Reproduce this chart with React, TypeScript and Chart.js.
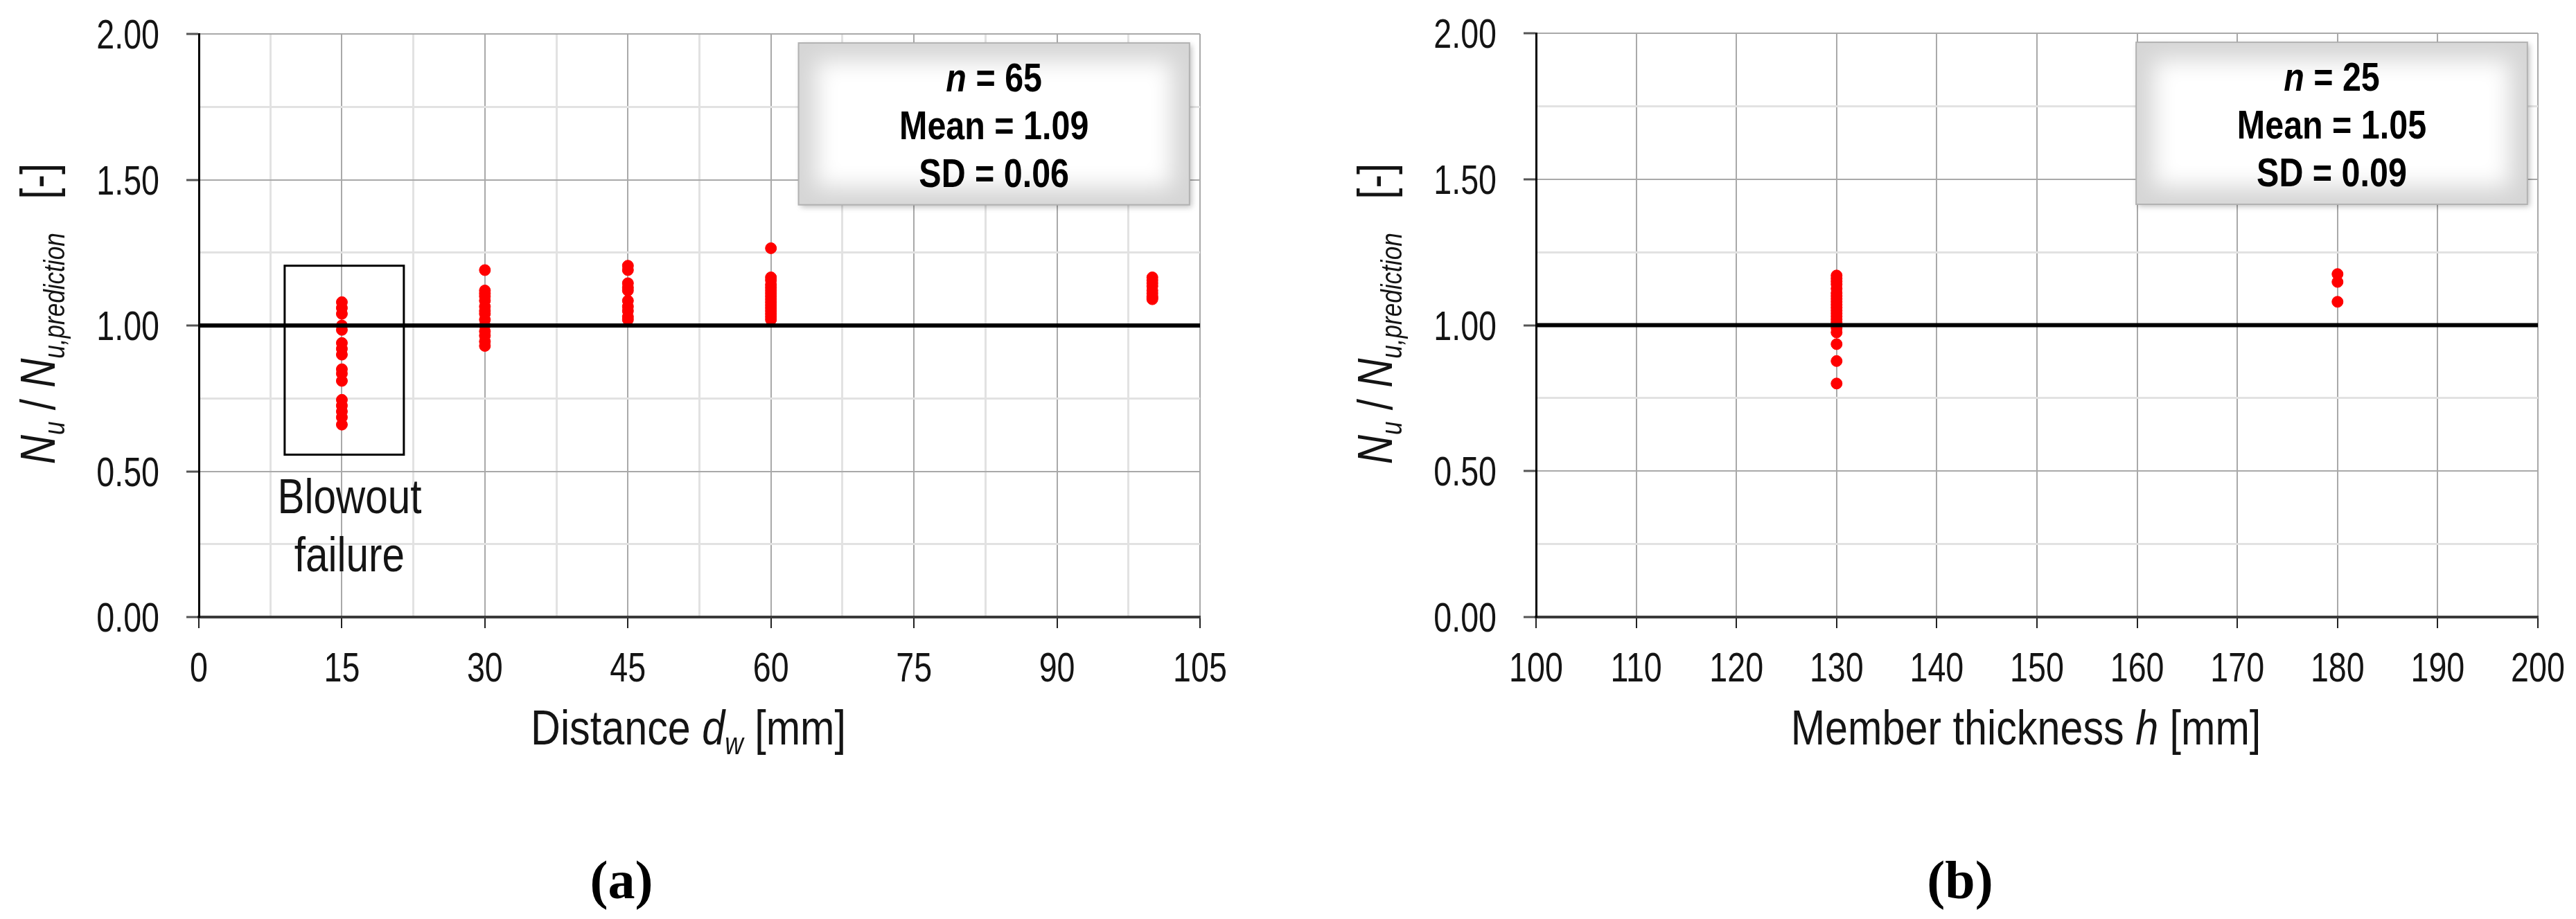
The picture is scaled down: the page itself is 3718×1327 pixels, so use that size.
import React, { useEffect, useRef } from 'react';
import { Chart, registerables } from 'chart.js';

Chart.register(...registerables);

const SANS = '"Liberation Sans", Arial, sans-serif';
const SERIF = '"Liberation Serif", "Times New Roman", serif';
const TEXT = '#141414';
const RED = '#ff0000';

// ---------- Panel (a): distance d_w ----------
const distanceCategories = [15, 30, 45, 60, 100];
const ratioAt15 = [1.08, 1.06, 1.04, 1.0, 0.985, 0.94, 0.92, 0.9, 0.85, 0.835, 0.81, 0.745, 0.725, 0.705, 0.685, 0.66];
const ratioAt30 = [1.19, 1.12, 1.11, 1.1, 1.085, 1.065, 1.05, 1.04, 1.02, 1.0, 0.98, 0.965, 0.945, 0.93];
const ratioAt45 = [1.205, 1.19, 1.145, 1.13, 1.12, 1.085, 1.065, 1.05, 1.03, 1.02];
const ratioAt60 = [1.265, 1.165, 1.155, 1.14, 1.13, 1.12, 1.11, 1.1, 1.09, 1.08, 1.07, 1.06, 1.05, 1.04, 1.03, 1.02];
const ratioAt100 = [1.165, 1.155, 1.145, 1.135, 1.12, 1.11, 1.1, 1.095, 1.09];
const distanceSeries = [ratioAt15, ratioAt30, ratioAt45, ratioAt60, ratioAt100];
const distanceRange = [0, 105];
const distanceStep = 7.5;
const distanceLabelStep = 15;
const statsA = ['65', '1.09', '0.06'];
const blowoutBox = [9, 21.5, 0.557, 1.205];
const blowoutLabel = ['Blowout', 'failure'];
const blowoutLabelPos = [15.8, 0.356, 0.157];

// ---------- Panel (b): member thickness h ----------
const thicknessCategories = [130, 180];
const ratioAt130 = [1.17, 1.16, 1.15, 1.14, 1.125, 1.11, 1.1, 1.09, 1.08, 1.07, 1.06, 1.05, 1.04, 1.03, 1.02, 1.01, 1.0, 0.99, 0.975, 0.935, 0.877, 0.8];
const ratioAt180 = [1.175, 1.148, 1.08];
const thicknessSeries = [ratioAt130, ratioAt180];
const thicknessRange = [100, 200];
const thicknessStep = 10;
const thicknessLabelStep = 10;
const statsB = ['25', '1.05', '0.09'];

// ---------- shared y axis ----------
const ratioRange = [0, 2];
const ratioStep = 0.25;
const ratioLabelStep = 0.5;
const referenceRatio = 1.0;

type Run = { text: string; font: string; dy?: number };

// draws a sequence of text runs horizontally condensed by sx, anchored at x by align
function drawRuns(ctx: CanvasRenderingContext2D, runs: Run[], x: number, y: number, sx: number, align: 'center' | 'right' | 'left' = 'center') {
  ctx.save();
  ctx.translate(x, y);
  ctx.scale(sx, 1);
  let total = 0;
  for (const r of runs) {
    ctx.font = r.font;
    total += ctx.measureText(r.text).width;
  }
  let cx = align === 'center' ? -total / 2 : align === 'right' ? -total : 0;
  ctx.textAlign = 'left';
  ctx.textBaseline = 'alphabetic';
  for (const r of runs) {
    ctx.font = r.font;
    ctx.fillText(r.text, cx, r.dy || 0);
    cx += ctx.measureText(r.text).width;
  }
  ctx.restore();
}

const isMultiple = (v: number, step: number) => Math.abs(v / step - Math.round(v / step)) < 1e-6;

const TICK_SX = 0.79;
const TITLE_SX = 0.835;

const overlayPlugin = {
  id: 'overlay',
  afterDraw(chart: any, _args: any, opts: any) {
    const { ctx, chartArea: ca } = chart;
    const xs = chart.scales.x;
    const ys = chart.scales.y;
    ctx.save();
    ctx.fillStyle = TEXT;

    // tick labels (condensed, placed through the scales)
    const tickFont = `59px ${SANS}`;
    for (const t of xs.ticks) {
      if (!isMultiple(t.value, opts.xLabelStep)) continue;
      drawRuns(ctx, [{ text: String(t.value), font: tickFont }], xs.getPixelForValue(t.value), ca.bottom + 93, TICK_SX);
    }
    for (const t of ys.ticks) {
      if (!isMultiple(t.value, ratioLabelStep)) continue;
      drawRuns(ctx, [{ text: Number(t.value).toFixed(2), font: tickFont }], ca.left - 57, ys.getPixelForValue(t.value) + 21, TICK_SX, 'right');
    }

    // Blowout annotation box
    if (opts.box) {
      const b = opts.box;
      const x0 = xs.getPixelForValue(b[0]);
      const x1 = xs.getPixelForValue(b[1]);
      const y0 = ys.getPixelForValue(b[2]);
      const y1 = ys.getPixelForValue(b[3]);
      ctx.strokeStyle = '#000';
      ctx.lineWidth = 3;
      ctx.strokeRect(x0, y1, x1 - x0, y0 - y1);
      const lp = opts.boxLabelPos;
      const f = `70px ${SANS}`;
      drawRuns(ctx, [{ text: opts.boxLabel[0], font: f }], xs.getPixelForValue(lp[0]), ys.getPixelForValue(lp[1]), TITLE_SX);
      drawRuns(ctx, [{ text: opts.boxLabel[1], font: f }], xs.getPixelForValue(lp[0]), ys.getPixelForValue(lp[2]), TITLE_SX);
    }

    // Stats box
    const w = ca.right - ca.left;
    const h = ca.bottom - ca.top;
    const L = ca.left + 0.599 * w;
    const R = ca.left + 0.9895 * w;
    const T = ca.top + 0.0155 * h;
    const B = ca.top + 0.293 * h;
    ctx.save();
    ctx.shadowColor = 'rgba(0,0,0,0.25)';
    ctx.shadowBlur = 8;
    ctx.shadowOffsetX = 3;
    ctx.shadowOffsetY = 3;
    ctx.fillStyle = '#d6d6d6';
    ctx.fillRect(L, T, R - L, B - T);
    ctx.restore();
    ctx.save();
    ctx.beginPath();
    ctx.rect(L, T, R - L, B - T);
    ctx.clip();
    (ctx as any).filter = 'blur(16px)';
    ctx.fillStyle = '#ffffff';
    ctx.fillRect(L + 26, T + 26, R - L - 52, B - T - 52);
    ctx.restore();
    ctx.strokeStyle = '#b2b2b2';
    ctx.lineWidth = 2;
    ctx.strokeRect(L, T, R - L, B - T);
    const st = opts.stats;
    const cx = (L + R) / 2;
    ctx.fillStyle = '#000';
    const bf = `bold 58px ${SANS}`;
    drawRuns(ctx, [
      { text: 'n', font: `italic bold 58px ${SANS}` },
      { text: ' = ' + st[0], font: bf },
    ], cx, T + 70, TITLE_SX);
    drawRuns(ctx, [{ text: 'Mean = ' + st[1], font: bf }], cx, T + 139, TITLE_SX);
    drawRuns(ctx, [{ text: 'SD = ' + st[2], font: bf }], cx, T + 208, TITLE_SX);

    // X axis title
    ctx.fillStyle = TEXT;
    drawRuns(ctx, opts.xTitle, (ca.left + ca.right) / 2 - 16, 1075, TITLE_SX);

    // Y axis title (rotated)
    ctx.save();
    ctx.translate(ca.left - 208, 453);
    ctx.rotate(-Math.PI / 2);
    drawRuns(ctx, [
      { text: 'N', font: `italic 70px ${SANS}` },
      { text: 'u', font: `italic 42px ${SANS}`, dy: 14 },
      { text: ' / ', font: `70px ${SANS}` },
      { text: 'N', font: `italic 70px ${SANS}` },
      { text: 'u,prediction', font: `italic 42px ${SANS}`, dy: 14 },
      { text: '   [-]', font: `70px ${SANS}` },
    ], 0, 0, TITLE_SX);
    ctx.restore();

    // Panel label
    ctx.fillStyle = '#000';
    ctx.font = `bold 78px ${SERIF}`;
    ctx.textAlign = 'center';
    ctx.textBaseline = 'alphabetic';
    ctx.fillText(opts.panel, opts.panelX, 1297);
    ctx.restore();
  },
};

type PanelCfg = {
  categories: number[];
  series: number[][];
  range: number[];
  step: number;
  labelStep: number;
  minorX: boolean;
  yWidth: number;
  padTop: number;
  padRight: number;
  overlay: any;
};

function buildChart(canvas: HTMLCanvasElement, cfg: PanelCfg) {
  const points: { x: number; y: number }[] = [];
  cfg.categories.forEach((c, i) => cfg.series[i].forEach((v) => points.push({ x: c, y: v })));
  const refLine = [
    { x: cfg.range[0], y: referenceRatio },
    { x: cfg.range[1], y: referenceRatio },
  ];
  const MAJOR = '#a9a9a9';
  const MINOR = '#e2e2e2';
  return new Chart(canvas, {
    type: 'scatter',
    data: {
      datasets: [
        {
          type: 'line',
          data: refLine,
          borderColor: '#000',
          borderWidth: 6,
          pointRadius: 0,
          showLine: true,
          order: 0,
        } as any,
        {
          type: 'scatter',
          data: points,
          backgroundColor: RED,
          borderColor: RED,
          borderWidth: 1,
          pointRadius: 8,
          order: 1,
        } as any,
      ],
    },
    options: {
      animation: false,
      responsive: false,
      devicePixelRatio: 1,
      events: [],
      layout: { padding: { left: 0, top: cfg.padTop, right: cfg.padRight, bottom: 0 } },
      plugins: {
        legend: { display: false },
        tooltip: { enabled: false },
        overlay: { ...cfg.overlay, xLabelStep: cfg.labelStep },
      } as any,
      scales: {
        x: {
          type: 'linear',
          min: cfg.range[0],
          max: cfg.range[1],
          afterFit: (s: any) => {
            s.height = 436;
          },
          ticks: {
            display: false,
            stepSize: cfg.step,
            autoSkip: false,
            maxRotation: 0,
          },
          grid: {
            color: (c: any) => (cfg.minorX && !isMultiple(c.tick.value, cfg.labelStep) ? MINOR : MAJOR),
            lineWidth: (c: any) => (cfg.minorX && !isMultiple(c.tick.value, cfg.labelStep) ? 3 : 2),
            tickColor: (c: any) => (isMultiple(c.tick.value, cfg.labelStep) ? '#222' : 'rgba(0,0,0,0)'),
            tickWidth: 2,
            tickLength: 16,
          },
          border: { color: '#3a3a3a', width: 4 },
        } as any,
        y: {
          type: 'linear',
          min: ratioRange[0],
          max: ratioRange[1],
          afterFit: (s: any) => {
            s.width = cfg.yWidth;
          },
          ticks: {
            display: false,
            stepSize: ratioStep,
            autoSkip: false,
          },
          grid: {
            color: (c: any) => (isMultiple(c.tick.value, ratioLabelStep) ? MAJOR : MINOR),
            lineWidth: (c: any) => (isMultiple(c.tick.value, ratioLabelStep) ? 2 : 3),
            tickColor: (c: any) => (isMultiple(c.tick.value, ratioLabelStep) ? '#555' : 'rgba(0,0,0,0)'),
            tickWidth: 3,
            tickLength: 18,
          },
          border: { color: '#000', width: 3 },
        } as any,
      },
    },
    plugins: [overlayPlugin],
  });
}

export default function App() {
  const refA = useRef<HTMLCanvasElement>(null);
  const refB = useRef<HTMLCanvasElement>(null);

  useEffect(() => {
    const a = buildChart(refA.current!, {
      categories: distanceCategories,
      series: distanceSeries,
      range: distanceRange,
      step: distanceStep,
      labelStep: distanceLabelStep,
      minorX: true,
      yWidth: 287,
      padTop: 49,
      padRight: 127,
      overlay: {
        stats: statsA,
        box: blowoutBox,
        boxLabel: blowoutLabel,
        boxLabelPos: blowoutLabelPos,
        panel: '(a)',
        panelX: 897,
        xTitle: [
          { text: 'Distance ', font: `71px ${SANS}` },
          { text: 'd', font: `italic 71px ${SANS}` },
          { text: 'w', font: `italic 44px ${SANS}`, dy: 14 },
          { text: ' [mm]', font: `71px ${SANS}` },
        ],
      },
    });
    const b = buildChart(refB.current!, {
      categories: thicknessCategories,
      series: thicknessSeries,
      range: thicknessRange,
      step: thicknessStep,
      labelStep: thicknessLabelStep,
      minorX: false,
      yWidth: 358,
      padTop: 48,
      padRight: 55,
      overlay: {
        stats: statsB,
        panel: '(b)',
        panelX: 970,
        xTitle: [
          { text: 'Member thickness ', font: `71px ${SANS}` },
          { text: 'h', font: `italic 71px ${SANS}` },
          { text: ' [mm]', font: `71px ${SANS}` },
        ],
      },
    });
    return () => {
      a.destroy();
      b.destroy();
    };
  }, []);

  return (
    <div style={{ position: 'absolute', left: 0, top: 0, width: 3718, height: 1327, background: '#fff' }}>
      <canvas ref={refA} width={1859} height={1327} style={{ position: 'absolute', left: 0, top: 0, width: 1859, height: 1327 }} />
      <canvas ref={refB} width={1859} height={1327} style={{ position: 'absolute', left: 1859, top: 0, width: 1859, height: 1327 }} />
    </div>
  );
}
